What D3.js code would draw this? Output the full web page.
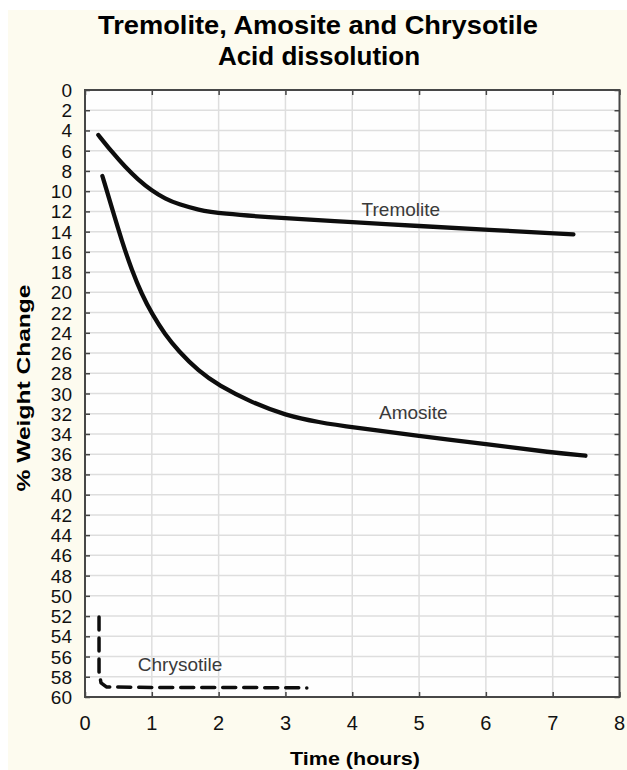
<!DOCTYPE html>
<html lang="en">
  <head>
    <meta charset="utf-8">
    <title>Tremolite, Amosite and Chrysotile Acid dissolution</title>
    <script src="https://d3js.org/d3.v7.js"></script>
    <style>
    body {margin: 0; background: #ffffff;}
    text {font-family: "Liberation Sans", Arial, sans-serif;}
    </style>
  </head>
  <body>
  <script>

  // data (time in hours, % weight change)
  var tremTime = [0.2, 0.4, 0.6, 0.8, 1.0, 1.2, 1.4, 1.7, 2.0, 3.0, 4.0, 5.0, 6.0, 7.31];
  var tremVal  = [4.45, 6.1, 7.6, 8.9, 9.95, 10.75, 11.3, 11.85, 12.2, 12.7, 13.05, 13.45, 13.8, 14.27];

  var amoTime = [0.26, 0.4, 0.55, 0.7, 0.85, 1.0, 1.2, 1.4, 1.7, 2.0, 2.5, 3.0, 3.5, 4.0, 5.0, 6.0, 7.0, 7.49];
  var amoVal  = [8.5, 11.6, 14.9, 17.8, 20.2, 22.1, 24.2, 25.8, 27.8, 29.2, 30.9, 32.15, 32.85, 33.35, 34.2, 35.0, 35.85, 36.15];

  var chrTime = [0.21, 0.21, 0.24, 0.32, 1.0, 2.0, 3.32];
  var chrVal  = [52.1, 57.5, 58.6, 59.0, 59.05, 59.05, 59.1];

  var xTicks = [0, 1, 2, 3, 4, 5, 6, 7, 8];
  var yTicks = d3.range(0, 61, 2);

  var series = [
    {name: "Tremolite", t: tremTime, v: tremVal, lab: [4.14, 12.5]},
    {name: "Amosite", t: amoTime, v: amoVal, lab: [4.4, 32.5]},
    {name: "Chrysotile", t: chrTime, v: chrVal, lab: [0.79, 57.4]}
  ];

  var w = 627;
  var h = 770;
  var margin = {top: 90, right: 7.5, bottom: 73, left: 85};

  var svg = d3.select("body")
      .append("svg")
      .attr("width", w)
      .attr("height", h);

  // cream page with the thin white strip top and left
  svg.append("rect")
     .attr("x", 8).attr("y", 10)
     .attr("width", w - 8).attr("height", h - 10)
     .attr("fill", "#fdfbef");

  var xScale = d3.scaleLinear()
      .domain([0, 8])
      .range([margin.left, w - margin.right]);

  var yScale = d3.scaleLinear()
      .domain([0, 60])
      .range([margin.top, h - margin.bottom]);

  svg.append("rect")
     .attr("x", xScale(0)).attr("y", yScale(0))
     .attr("width", xScale(8) - xScale(0))
     .attr("height", yScale(60) - yScale(0))
     .attr("fill", "#fefefe");

  // grid
  svg.append("g")
     .selectAll("line")
     .data(yTicks.slice(1, -1))
     .join("line")
     .attr("x1", xScale(0)).attr("x2", xScale(8))
     .attr("y1", d => yScale(d)).attr("y2", d => yScale(d))
     .attr("stroke", "#dedede")
     .attr("stroke-width", 1.5);

  svg.append("g")
     .selectAll("line")
     .data(xTicks.slice(1, -1))
     .join("line")
     .attr("y1", yScale(0)).attr("y2", yScale(60))
     .attr("x1", d => xScale(d)).attr("x2", d => xScale(d))
     .attr("stroke", "#dedede")
     .attr("stroke-width", 1.5);

  // inner ticks on every side
  var tickStyle = function(g) {
    g.select(".domain").remove();
    g.selectAll(".tick line").attr("stroke", "#444").attr("stroke-width", 1.5);
    g.selectAll(".tick text").remove();
  };

  svg.append("g")
     .attr("transform", `translate(${xScale(0)},0)`)
     .call(d3.axisRight(yScale).tickValues(yTicks).tickSize(5))
     .call(tickStyle);
  svg.append("g")
     .attr("transform", `translate(${xScale(8)},0)`)
     .call(d3.axisLeft(yScale).tickValues(yTicks).tickSize(5))
     .call(tickStyle);
  svg.append("g")
     .attr("transform", `translate(0,${yScale(60)})`)
     .call(d3.axisTop(xScale).tickValues(xTicks).tickSize(5))
     .call(tickStyle);
  svg.append("g")
     .attr("transform", `translate(0,${yScale(0)})`)
     .call(d3.axisBottom(xScale).tickValues(xTicks).tickSize(5))
     .call(tickStyle);

  // frame
  svg.append("rect")
     .attr("x", xScale(0)).attr("y", yScale(0))
     .attr("width", xScale(8) - xScale(0))
     .attr("height", yScale(60) - yScale(0))
     .attr("fill", "none")
     .attr("stroke", "#474747")
     .attr("stroke-width", 2);

  // tick labels
  svg.selectAll(".ylab")
     .data(yTicks)
     .join("text")
     .attr("class", "ylab")
     .attr("x", 72)
     .attr("y", d => yScale(d) + 7)
     .attr("text-anchor", "end")
     .style("font-size", "19px")
     .attr("fill", "#111")
     .text(d => d);

  svg.selectAll(".xlab")
     .data(xTicks)
     .join("text")
     .attr("class", "xlab")
     .attr("x", d => xScale(d))
     .attr("y", 730)
     .attr("text-anchor", "middle")
     .style("font-size", "20px")
     .attr("fill", "#111")
     .text(d => d);

  // curves
  var line = d3.line()
      .x(d => xScale(d[0]))
      .y(d => yScale(d[1]))
      .curve(d3.curveBasis);

  var lineDash = d3.line()
      .x(d => xScale(d[0]))
      .y(d => yScale(d[1]));

  series.forEach(function(s) {
    var pts = s.t.map((t, i) => [t, s.v[i]]);
    var dashed = s.name == "Chrysotile";
    svg.append("path")
       .attr("d", dashed ? lineDash(pts) : line(pts))
       .attr("fill", "none")
       .attr("stroke", "#0d0d0d")
       .attr("stroke-width", dashed ? 3.5 : 4.3)
       .attr("stroke-linecap", "round")
       .attr("stroke-linejoin", "round")
       .attr("stroke-dasharray", dashed ? "13,8" : null);

    svg.append("text")
       .attr("x", xScale(s.lab[0]))
       .attr("y", yScale(s.lab[1]))
       .style("font-size", "19px")
       .attr("fill", "#3a3a3a")
       .text(s.name);
  });

  // titles
  svg.append("text")
     .attr("x", 318).attr("y", 34)
     .attr("text-anchor", "middle")
     .style("font-size", "26px")
     .style("font-weight", "bold")
     .attr("textLength", 440)
     .attr("lengthAdjust", "spacingAndGlyphs")
     .text("Tremolite, Amosite and Chrysotile");

  svg.append("text")
     .attr("x", 319).attr("y", 65)
     .attr("text-anchor", "middle")
     .style("font-size", "26px")
     .style("font-weight", "bold")
     .text("Acid dissolution");

  svg.append("text")
     .attr("x", 355).attr("y", 765)
     .attr("text-anchor", "middle")
     .style("font-size", "19px")
     .style("font-weight", "bold")
     .attr("textLength", 130)
     .attr("lengthAdjust", "spacingAndGlyphs")
     .text("Time (hours)");

  svg.append("text")
     .attr("transform", "translate(30,388) rotate(-90)")
     .attr("text-anchor", "middle")
     .style("font-size", "19px")
     .style("font-weight", "bold")
     .attr("textLength", 207)
     .attr("lengthAdjust", "spacingAndGlyphs")
     .text("% Weight Change");

  </script>
  </body>
</html>
